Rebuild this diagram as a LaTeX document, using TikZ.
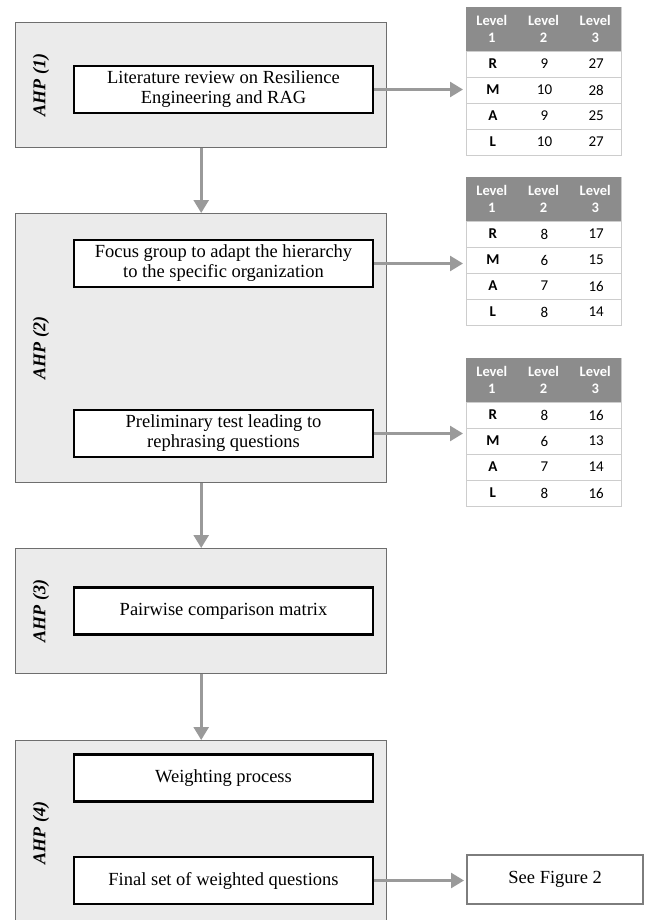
\documentclass[tikz,border=0pt]{standalone}
\usepackage{fontspec}
\setmainfont{Liberation Serif}
\newfontfamily\tabfont{Carlito}
\usetikzlibrary{arrows.meta,positioning}

\definecolor{boxgray}{HTML}{EBEBEB}
\definecolor{edgegray}{HTML}{6E6E6E}
\definecolor{arrgray}{HTML}{9A9A9A}
\definecolor{headgray}{HTML}{8C8C8C}
\definecolor{linegray}{HTML}{CDCDCD}

\tikzset{
  stage/.style={draw=edgegray, fill=boxgray, line width=1.4pt, minimum width=371pt, anchor=north west, inner sep=0pt},
  task/.style={draw=black, fill=white, line width=2.4pt, minimum width=299pt, minimum height=47pt, align=center, inner sep=0pt, font=\fontsize{18.5}{20}\selectfont},
  ahp/.style={rotate=90, font=\fontsize{18}{20}\selectfont\bfseries\itshape},
  flow/.style={draw=arrgray, line width=2.6pt, -{Triangle[length=13pt,width=15pt]}},
  tabframe/.style={draw=linegray, line width=0.8pt, minimum width=155pt, minimum height=148pt, anchor=north west, inner sep=0pt},
  tabhead/.style={fill=headgray, minimum width=155pt, minimum height=44pt, anchor=north west, inner sep=0pt},
  headtxt/.style={text=white, align=center, font=\tabfont\bfseries\fontsize{14.5}{17}\selectfont},
  celltxt/.style={font=\tabfont\fontsize{15}{16}\selectfont},
  reflink/.style={draw=edgegray!90, fill=white, line width=2.4pt, minimum width=176pt, minimum height=49pt, anchor=north west, font=\fontsize{18.5}{20}\selectfont}
}

% level table: name, top, rows
\newcommand{\lvltab}[3]{%
  \node[tabframe] (#1) at (466,#2) {};
  \foreach \l/\m/\n [count=\r] in {#3} {
    \draw[linegray, line width=0.8pt] (466,{#2+44+26*(\r-1)}) -- (621,{#2+44+26*(\r-1)});
    \node[celltxt, font=\tabfont\bfseries\fontsize{15}{16}\selectfont] (#1-\r-a) at (492.8,{#2+57+26*(\r-1)}) {\l};
    \node[celltxt] (#1-\r-b) at (544.5,{#2+57+26*(\r-1)}) {\m};
    \node[celltxt] (#1-\r-c) at (596.2,{#2+57+26*(\r-1)}) {\n};
  }
  \node[tabhead] (#1head) at (466,#2) {};
  \foreach \c in {1,2,3}
    \node[headtxt] (#1-h\c) at ({466+51.67*(\c-0.5)},{#2+22}) {Level\\\c};
}

\begin{document}
\begin{tikzpicture}[x=1pt, y=-1pt]
  \useasboundingbox (0,0) rectangle (651,920);

  % AHP stages
  \node[stage, minimum height=125pt] (s1) at (15,22) {};
  \node[stage, minimum height=269pt] (s2) at (15,213) {};
  \node[stage, minimum height=125pt] (s3) at (15,548) {};
  \node[stage, minimum height=185pt] (s4) at (15,740) {};

  \node[ahp] (a1) at ([xshift=26pt]s1.west) {AHP (1)};
  \node[ahp] (a2) at ([xshift=26pt]s2.west) {AHP (2)};
  \node[ahp] (a3) at ([xshift=26pt]s3.west) {AHP (3)};
  \node[ahp] (a4) at ([xshift=26pt]s4.west) {AHP (4)};

  % tasks
  \node[task] (lit) at (223.5,89.5) {Literature review on Resilience\\Engineering and RAG};
  \node[task] (focus) at (223.5,263.5) {Focus group to adapt the hierarchy\\to the specific organization};
  \node[task] (pre) at (223.5,433.5) {Preliminary test leading to\\rephrasing questions};
  \node[task] (pair) at (223.5,611) {Pairwise comparison matrix};
  \node[task] (weight) at (223.5,778) {Weighting process};
  \node[task] (final) at (223.5,880.5) {Final set of weighted questions};

  % tables
  \lvltab{tabA}{7}{R/9/27, M/10/28, A/9/25, L/10/27}
  \lvltab{tabB}{177}{R/8/17, M/6/15, A/7/16, L/8/14}
  \lvltab{tabC}{358}{R/8/16, M/6/13, A/7/14, L/8/16}

  \node[reflink] (fig) at (466,854) {See Figure 2};

  % connectors
  \draw[flow] (s1.south) -- (s2.north);
  \draw[flow] (s2.south) -- (s3.north);
  \draw[flow] (s3.south) -- (s4.north);
  \draw[flow, shorten >=3pt] (lit.east) -- (lit.east -| tabA.west);
  \draw[flow, shorten >=3pt] (focus.east) -- (focus.east -| tabB.west);
  \draw[flow, shorten >=3pt] (pre.east) -- (pre.east -| tabC.west);
  \draw[flow, shorten >=2pt] (final.east) -- (final.east -| fig.west);
\end{tikzpicture}
\end{document}
